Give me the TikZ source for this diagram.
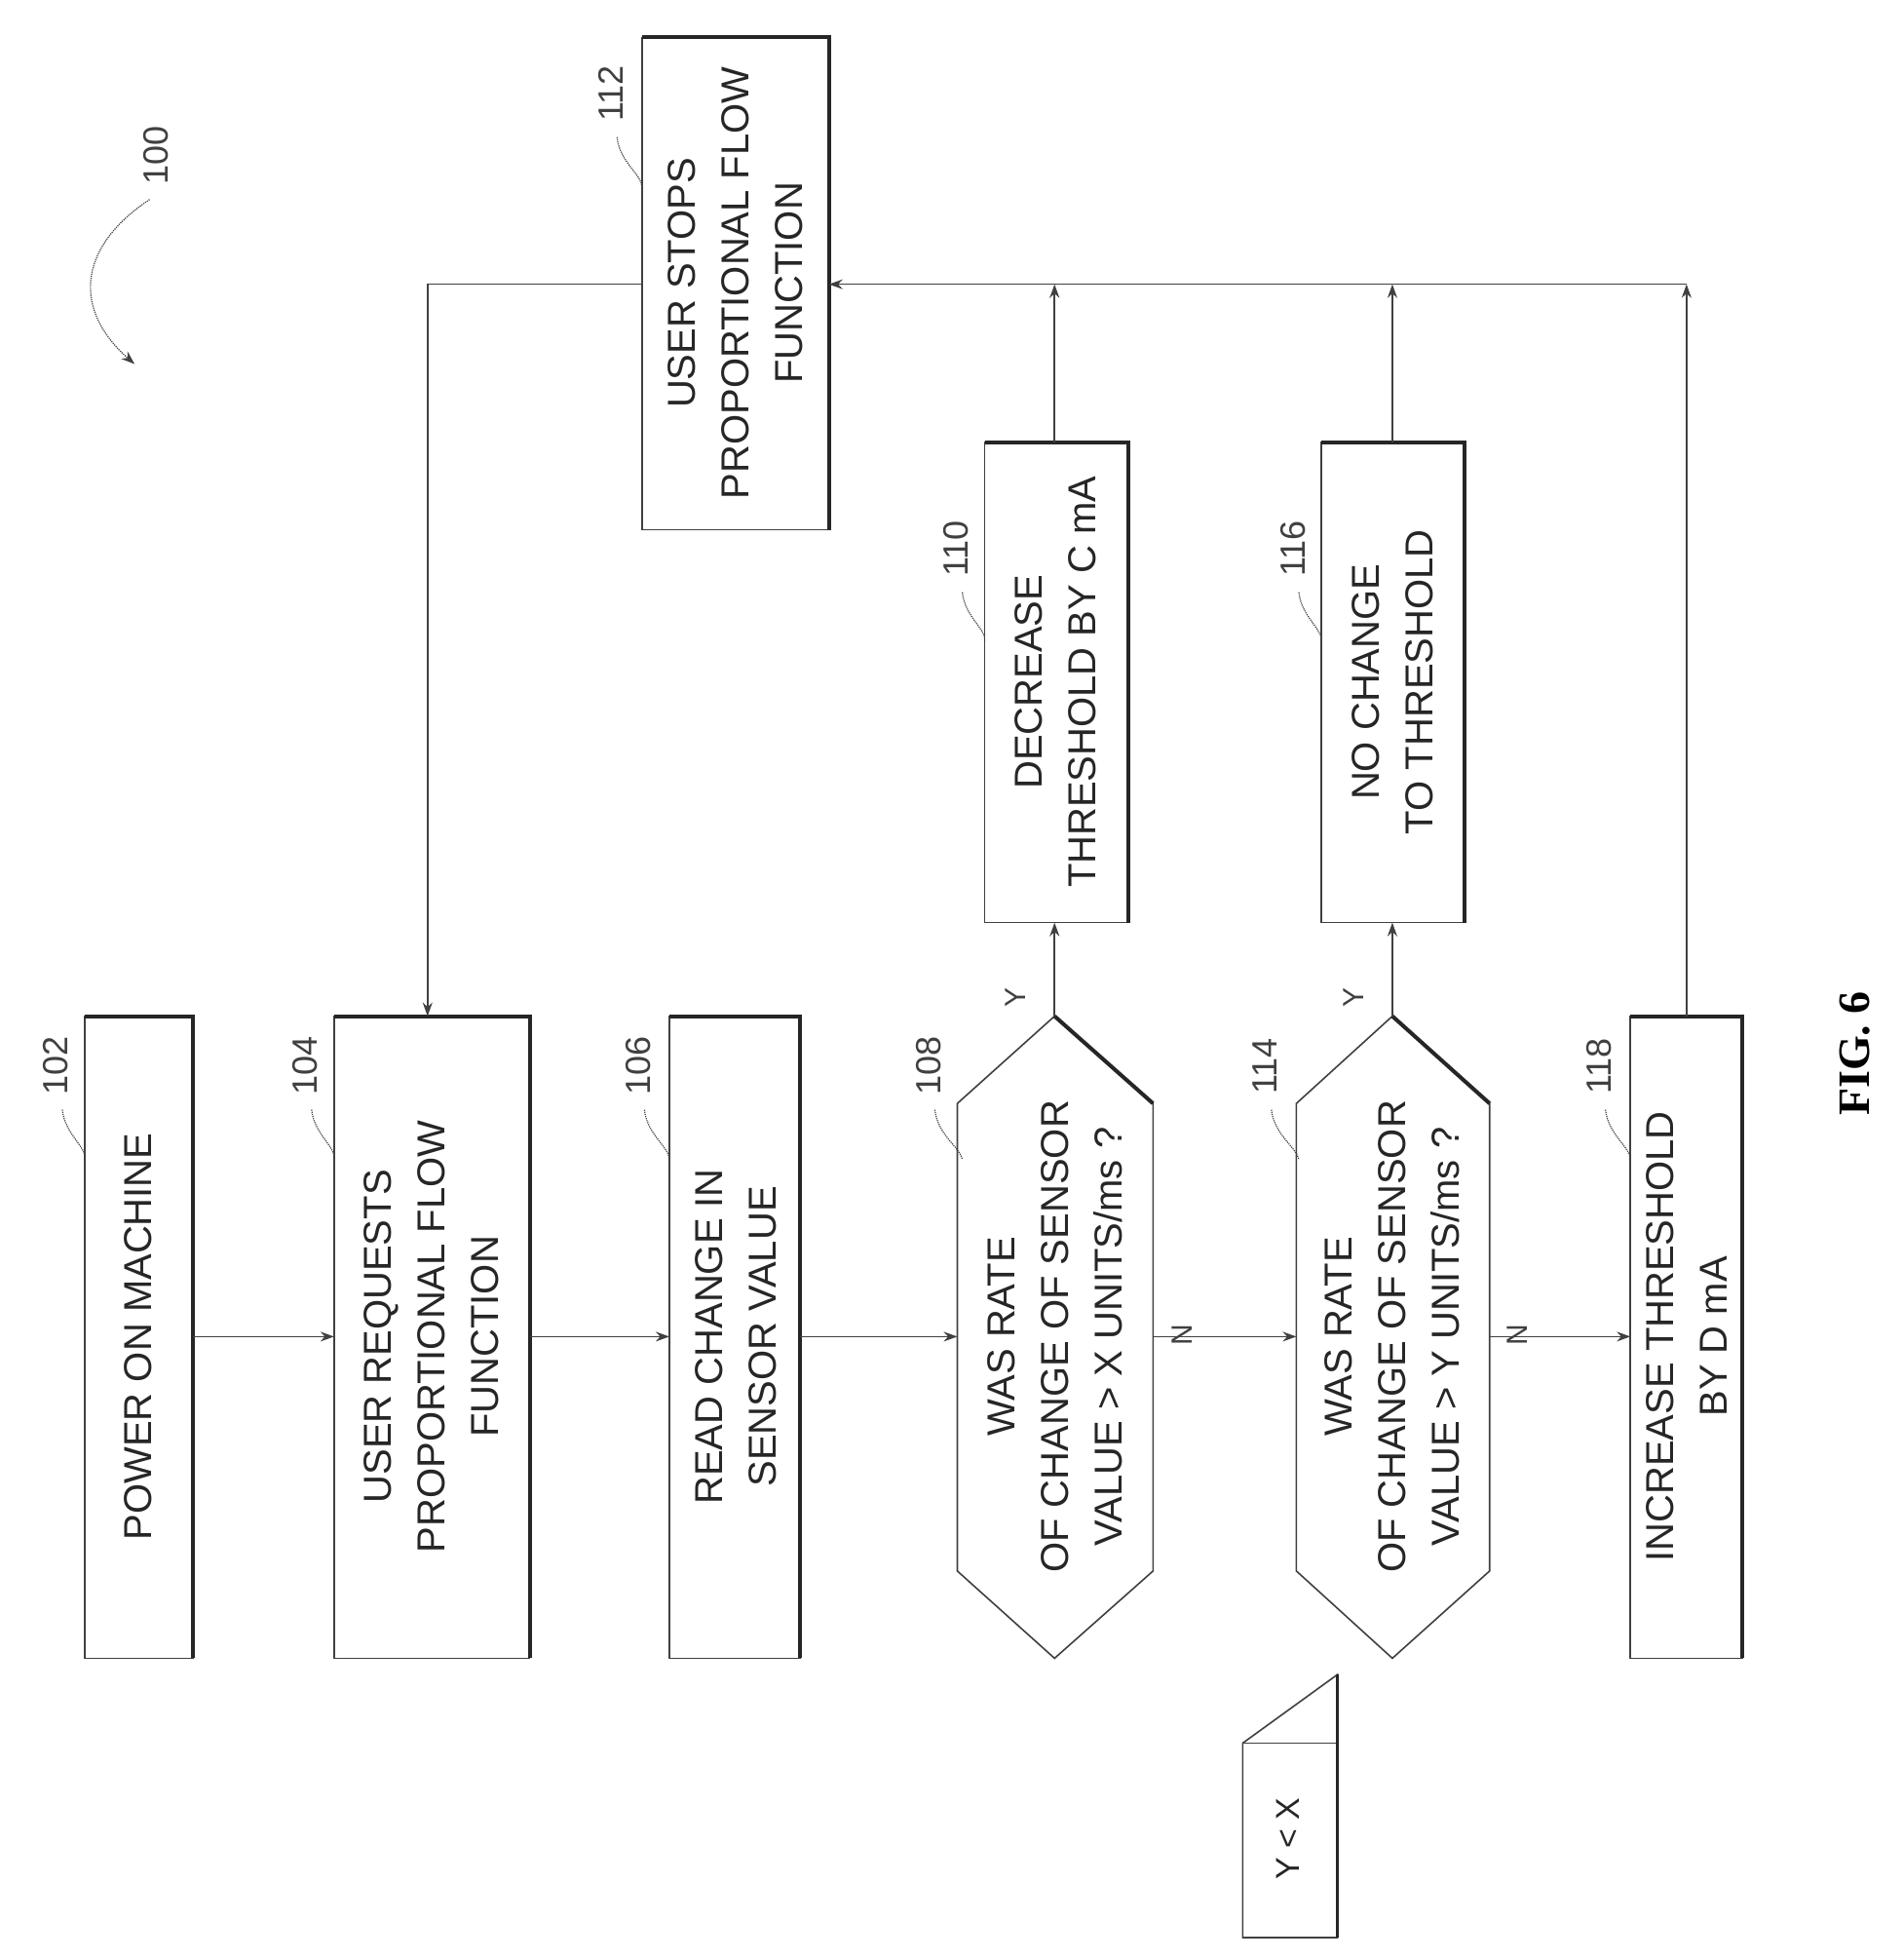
\documentclass[tikz,border=0pt]{standalone}
\usepackage{fontspec}
\setmainfont{Liberation Sans}
\newfontfamily\figfont{Liberation Serif}
\usetikzlibrary{arrows.meta}
\begin{document}
\begin{tikzpicture}[x=1.279pt,y=-1.279pt,
  line width=1.6pt, draw=black!75,
  txt/.style={rotate=90,align=center,font=\fontsize{40}{55}\selectfont,text=black!85},
  num/.style={rotate=90,font=\fontsize{36}{40}\selectfont,text=black!75},
  arr/.style={-{Stealth[length=14pt,width=10pt]}},
  lead/.style={line width=1.2pt,densely dotted}]
\useasboundingbox (0,0) rectangle (1526,1572);
\newcommand\pbox[4]{\draw (#1,#2) rectangle (#3,#4);
  \draw[line width=4pt,black!85] (#3,#4) -- (#3,#2) -- (#1,#2);}
\pbox{68}{815}{155}{1330}
\pbox{268}{815}{425}{1330}
\pbox{537}{815}{642}{1330}
\pbox{1308}{815}{1398}{1330}
\pbox{790}{355}{905}{740}
\pbox{1060}{355}{1175}{740}
\pbox{515}{30}{665}{425}
\node[txt] (n102) at (111,1072) {POWER ON MACHINE};
\node[txt] (n104) at (346,1072) {USER REQUESTS\\PROPORTIONAL FLOW\\FUNCTION};
\node[txt] (n106) at (590,1072) {READ CHANGE IN\\SENSOR VALUE};
\node[txt] (n118) at (1353,1072) {INCREASE THRESHOLD\\BY D mA};
\node[txt] (n110) at (847,547) {DECREASE\\THRESHOLD BY C mA};
\node[txt] (n116) at (1117,547) {NO CHANGE\\TO THRESHOLD};
\node[txt] (n112) at (590,227) {USER STOPS\\PROPORTIONAL FLOW\\FUNCTION};
\draw (768,885) -- (846,815) -- (925,885) -- (925,1260) -- (846,1330) -- (768,1260) -- cycle;
\draw[line width=4pt,black!85] (846,815) -- (925,885);
\draw (1040,885) -- (1117,815) -- (1195,885) -- (1195,1260) -- (1117,1330) -- (1040,1260) -- cycle;
\draw[line width=4pt,black!85] (1117,815) -- (1195,885);
\node[txt] (n108) at (846,1072) {WAS RATE\\OF CHANGE OF SENSOR\\VALUE > X UNITS/ms ?};
\node[txt] (n114) at (1117,1072) {WAS RATE\\OF CHANGE OF SENSOR\\VALUE > Y UNITS/ms ?};
% manual input note
\draw (997,1398) -- (1073,1343) -- (1073,1554) -- (997,1554) -- cycle;
\draw (997,1398) -- (1073,1398);
\draw[line width=3pt,black!85] (1073,1343) -- (1073,1554);
\node[txt,font=\fontsize{34}{40}\selectfont] (yx) at (1033,1475) {Y < X};
% connectors
\draw[arr] (155,1072) -- (268,1072);
\draw[arr] (425,1072) -- (537,1072);
\draw[arr] (642,1072) -- (768,1072);
\draw[arr] (925,1072) -- (1040,1072) node[pos=0.3,above=2pt,num,font=\fontsize{30}{30}\selectfont] (ln1) {N};
\draw[arr] (1195,1072) -- (1308,1072) node[pos=0.3,above=2pt,num,font=\fontsize{30}{30}\selectfont] (ln2) {N};
\draw[arr] (846,815) -- (846,740);
\draw[arr] (1117,815) -- (1117,740);
\node[num,font=\fontsize{30}{30}\selectfont] (ly1) at (815,800) {Y};
\node[num,font=\fontsize{30}{30}\selectfont] (ly2) at (1086,800) {Y};
\draw[arr] (846,355) -- (846,228);
\draw[arr] (1117,355) -- (1117,228);
\draw[arr] (1353,815) -- (1353,228);
\draw[arr] (1353,228) -- (665,228);
\draw[arr] (515,228) -- (343,228) -- (343,815);
% reference numbers
\node[num] (r102) at (45,855) {102}; \draw[lead] (50,890) .. controls (52,910) and (70,920) .. (68,930);
\node[num] (r104) at (245,855) {104}; \draw[lead] (250,890) .. controls (252,910) and (270,920) .. (268,930);
\node[num] (r106) at (512,855) {106}; \draw[lead] (517,890) .. controls (519,910) and (537,920) .. (537,930);
\node[num] (r108) at (745,855) {108}; \draw[lead] (750,890) .. controls (752,910) and (770,920) .. (772,930);
\node[num] (r114) at (1015,855) {114}; \draw[lead] (1020,890) .. controls (1022,910) and (1040,920) .. (1042,930);
\node[num] (r118) at (1283,855) {118}; \draw[lead] (1288,890) .. controls (1290,910) and (1308,920) .. (1308,930);
\node[num] (r110) at (767,440) {110}; \draw[lead] (772,475) .. controls (774,495) and (792,505) .. (790,515);
\node[num] (r116) at (1037,440) {116}; \draw[lead] (1042,475) .. controls (1044,495) and (1062,505) .. (1060,515);
\node[num] (r112) at (490,75) {112}; \draw[lead] (495,110) .. controls (497,130) and (515,140) .. (515,150);
\node[num] (r100) at (125,125) {100};
\draw[lead,-{Stealth[length=14pt,width=10pt]}] (120,160) .. controls (60,200) and (60,250) .. (108,292);
\node[rotate=90,font=\figfont\bfseries\fontsize{46}{50}\selectfont] (fig) at (1488,845) {FIG. 6};
\end{tikzpicture}
\end{document}
